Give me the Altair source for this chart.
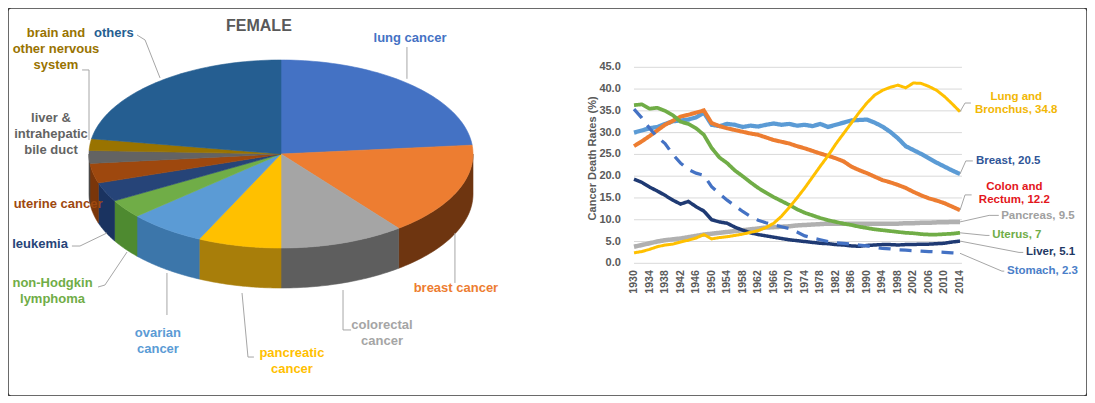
import altair as alt
import pandas as pd

# ---------------- pie (FEMALE) ----------------
pie_labels = ["lung cancer", "breast cancer", "colorectal cancer", "pancreatic cancer",
              "ovarian cancer", "non-Hodgkin lymphoma", "leukemia", "uterine cancer",
              "liver & intrahepatic bile duct", "brain and other nervous system", "others"]
pie_values = [23.5, 16.0, 10.5, 7.0, 6.5, 3.2, 3.3, 3.4, 2.2, 2.0, 22.4]
pie_top_colors = ["#4472C4", "#ED7D31", "#A5A5A5", "#FFC000", "#5B9BD5", "#70AD47",
                  "#264478", "#9E480E", "#636363", "#997300", "#255E91"]
pie_side_colors = ["#2F5597", "#6E3510", "#5E5E5E", "#A87E0A", "#3C76AA", "#4E8A30",
                   "#1A3360", "#7A360A", "#474747", "#6E5300", "#1B4870"]
pie_text = ["lung cancer", "breast cancer", "colorectal\ncancer", "pancreatic\ncancer",
            "ovarian\ncancer", "non-Hodgkin\nlymphoma", "leukemia", "uterine cancer",
            "liver &\nintrahepatic\nbile duct", "brain and\nother nervous\nsystem", "others"]
pie_text_colors = ["#4472C4", "#ED7D31", "#A5A5A5", "#FFC000", "#5B9BD5", "#70AD47",
                   "#264478", "#9E480E", "#636363", "#997300", "#255E91"]

# ---------------- lines ----------------
years = list(range(1930, 2015, 2))
lung = [2.4, 2.7, 3.2, 3.8, 4.2, 4.4, 4.9, 5.3, 5.8, 6.6, 5.6, 5.9, 6.1, 6.4, 6.7, 7.1, 7.5, 8.2,
        9.2, 10.8, 12.8, 15.0, 17.3, 19.8, 22.3, 24.7, 27.4, 29.8, 32.2, 34.6, 36.8, 38.6, 39.7,
        40.4, 40.9, 40.3, 41.4, 41.3, 40.6, 39.7, 38.3, 36.6, 34.8]
breast = [30.0, 30.5, 31.0, 31.3, 32.0, 32.6, 32.8, 33.0, 33.5, 34.6, 31.8, 31.5, 32.0, 31.8,
          31.3, 31.6, 31.4, 31.8, 32.1, 31.8, 32.0, 31.6, 31.8, 31.5, 32.0, 31.3, 31.8, 32.3,
          32.8, 32.9, 33.0, 32.3, 31.4, 30.2, 28.7, 26.9, 26.0, 25.1, 24.1, 23.1, 22.2, 21.3, 20.5]
colon = [26.9, 28.0, 29.2, 30.5, 31.8, 32.7, 33.7, 34.1, 34.6, 35.1, 32.2, 31.5, 31.0, 30.6,
         30.2, 29.8, 29.5, 28.9, 28.3, 27.9, 27.5, 26.9, 26.4, 25.8, 25.2, 24.7, 24.1, 23.4,
         22.2, 21.4, 20.7, 19.9, 19.1, 18.6, 18.0, 17.3, 16.4, 15.6, 14.9, 14.4, 13.8, 13.0, 12.2]
pancreas = [3.8, 4.2, 4.6, 5.0, 5.3, 5.5, 5.7, 6.0, 6.3, 6.6, 6.8, 7.0, 7.2, 7.4, 7.6, 7.8, 8.0,
            8.2, 8.3, 8.4, 8.5, 8.7, 8.8, 8.9, 9.0, 9.1, 9.1, 9.1, 9.1, 9.1, 9.1, 9.1, 9.1, 9.1,
            9.1, 9.2, 9.2, 9.3, 9.3, 9.4, 9.4, 9.5, 9.5]
uterus = [36.3, 36.5, 35.5, 35.7, 35.0, 34.0, 32.5, 32.0, 31.0, 29.5, 26.5, 24.3, 23.0, 21.3,
          20.0, 18.6, 17.3, 16.2, 15.2, 14.3, 13.4, 12.4, 11.6, 11.0, 10.4, 9.9, 9.5, 9.1, 8.8,
          8.4, 8.1, 7.8, 7.6, 7.4, 7.2, 7.0, 6.9, 6.7, 6.6, 6.6, 6.7, 6.8, 7.0]
liver = [19.3, 18.6, 17.5, 16.6, 15.6, 14.5, 13.6, 14.2, 13.0, 12.0, 10.0, 9.5, 9.2, 8.3, 7.6,
         7.0, 6.6, 6.3, 6.0, 5.7, 5.4, 5.2, 5.0, 4.8, 4.6, 4.5, 4.3, 4.2, 4.0, 3.9, 4.1, 4.2,
         4.3, 4.3, 4.2, 4.3, 4.3, 4.4, 4.4, 4.5, 4.6, 4.9, 5.1]
stomach = [35.4, 33.4, 31.0, 29.0, 27.5, 25.0, 23.0, 21.5, 20.7, 20.2, 17.6, 16.0, 14.5, 13.2,
           11.9, 10.8, 9.9, 9.3, 8.8, 8.4, 8.0, 7.2, 6.3, 5.8, 5.4, 5.0, 4.7, 4.6, 4.4, 4.2, 4.0,
           3.7, 3.4, 3.3, 3.1, 3.0, 2.9, 2.8, 2.7, 2.6, 2.5, 2.4, 2.3]

series_names = ["Pancreas", "Breast", "Colon and Rectum", "Uterus", "Liver", "Stomach", "Lung and Bronchus"]
series_values = [pancreas, breast, colon, uterus, liver, stomach, lung]
series_colors = ["#B0B0B0", "#5B9BD5", "#ED7D31", "#70AD47", "#1F3A73", "#4472C4", "#FFC000"]
series_widths = [4.5, 3, 3, 3, 3, 3.5, 3]
series_dash = [[1, 0], [1, 0], [1, 0], [1, 0], [1, 0], [12, 9], [1, 0]]

end_labels = ["Lung and\nBronchus, 34.8", "Colon and\nRectum, 12.2", "Breast, 20.5",
              "Pancreas, 9.5", "Uterus, 7", "Liver, 5.1", "Stomach, 2.3"]
end_label_colors = ["#F2B705", "#E3161B", "#2F5597", "#A0A0A0", "#70AD47", "#1F3864", "#4A7EC8"]

x_ticks = list(range(1930, 2015, 4))
y_ticks = [0, 5, 10, 15, 20, 25, 30, 35, 40, 45]
y_title = "Cancer Death Rates (%)"

FONT = "Liberation Sans"
GRAY = "#595959"

# ---------------- scales ----------------
ux = alt.Scale(domain=[-1, 1], range=[81, 465], zero=False, nice=False)
vy = alt.Scale(domain=[-1, 1], range=[240, 52], zero=False, nice=False)
xs = alt.Scale(domain=[x_ticks[0], x_ticks[-1]], range=[626, 952], zero=False, nice=False)
ys = alt.Scale(domain=[y_ticks[0], y_ticks[-1]], range=[255.3, 59.3], zero=False, nice=False)

def PX(f):
    return alt.X(f, scale=ux, axis=None)

def PY(f):
    return alt.Y(f, scale=vy, axis=None)

def LX(f):
    return alt.X(f, scale=xs, axis=None)

def LY(f):
    return alt.Y(f, scale=ys, axis=None)

# ---------------- pie layers ----------------
pie_df = pd.DataFrame({"cat": pie_labels, "val": pie_values, "idx": list(range(len(pie_labels))),
                       "top": pie_top_colors, "side": pie_side_colors})

base_pie = alt.Chart(pie_df).transform_joinaggregate(
    total="sum(val)"
).transform_window(
    cum="sum(val)", sort=[alt.SortField("idx", order="ascending")], frame=[None, 0]
).transform_calculate(
    a0="2*PI*(datum.cum - datum.val)/datum.total",
    a1="2*PI*datum.cum/datum.total",
)

DEPTH = 0.4255

side = base_pie.transform_calculate(
    s0="max(datum.a0, PI/2)", s1="min(datum.a1, 3*PI/2)"
).transform_filter("datum.s1 > datum.s0").transform_calculate(
    t="sequence(0, 82)"
).transform_flatten(["t"]).transform_calculate(
    ang="datum.t <= 40 ? datum.s0 + (datum.s1 - datum.s0) * datum.t / 40 : datum.s1 - (datum.s1 - datum.s0) * (datum.t - 41) / 40",
    u="sin(datum.ang)",
    v=f"datum.t <= 40 ? cos(datum.ang) : cos(datum.ang) - {DEPTH}",
).mark_line(interpolate="linear-closed", strokeWidth=0.6).encode(
    x=PX("u:Q"), y=PY("v:Q"),
    order=alt.Order("t:Q"),
    detail="cat:N",
    color=alt.Color("side:N", scale=None),
    fill=alt.Fill("side:N", scale=None),
)

top = base_pie.transform_calculate(
    t="sequence(0, 62)"
).transform_flatten(["t"]).transform_calculate(
    ang="datum.a0 + (datum.a1 - datum.a0) * (datum.t - 1) / 60",
    u="datum.t == 0 ? 0 : sin(datum.ang)",
    v="datum.t == 0 ? 0 : cos(datum.ang)",
).mark_line(interpolate="linear-closed", strokeWidth=0.6).encode(
    x=PX("u:Q"), y=PY("v:Q"),
    order=alt.Order("t:Q"),
    detail="cat:N",
    color=alt.Color("top:N", scale=None),
    fill=alt.Fill("top:N", scale=None),
)

# label placement (pie units, first text line)
pie_lab_u = [0.672, 0.911, 0.526, 0.057, -0.641, -1.19, -1.255, -1.161, -1.198, -1.172, -0.87]
pie_lab_v = [1.234, -1.426, -1.819, -2.117, -1.904, -1.372, -0.957, -0.532, 0.383, 1.287, 1.287]
pie_lab_df = pd.DataFrame({"text": pie_text, "u": pie_lab_u, "v": pie_lab_v, "color": pie_text_colors})

pie_labels_layer = alt.Chart(pie_lab_df).mark_text(
    font=FONT, fontSize=13, fontWeight="bold", align="center", baseline="middle",
    lineBreak="\n", lineHeight=16
).encode(
    x=PX("u:Q"), y=PY("v:Q"),
    text="text:N",
    color=alt.Color("color:N", scale=None),
)

lead_rows = [
    ("lung", [(0.656, 1.138), (0.656, 0.80)]),
    ("breast", [(0.906, -0.84), (0.906, -1.372)]),
    ("colorectal", [(0.323, -1.447), (0.323, -1.872), (0.365, -1.872)]),
    ("pancreatic", [(-0.203, -1.479), (-0.172, -2.16), (-0.141, -2.16)]),
    ("ovarian", [(-0.594, -1.266), (-0.594, -1.713)]),
    ("nhl", [(-0.802, -1.043), (-0.917, -1.394), (-0.953, -1.415)]),
    ("leukemia", [(-0.906, -0.84), (-1.047, -0.979), (-1.089, -0.979)]),
    ("brain", [(-1.0, 0.149), (-1.0, 0.894), (-1.036, 0.894)]),
    ("others", [(-0.63, 0.809), (-0.708, 1.213), (-0.75, 1.266)]),
]
lead_df = pd.DataFrame([{"id": k, "o": i, "u": p[0], "v": p[1]}
                        for k, pts in lead_rows for i, p in enumerate(pts)])
pie_leaders = alt.Chart(lead_df).mark_line(color="#A6A6A6", strokeWidth=1).encode(
    x=PX("u:Q"), y=PY("v:Q"),
    order=alt.Order("o:Q"),
    detail="id:N",
)

title_df = pd.DataFrame({"text": ["FEMALE"], "u": [-0.115], "v": [1.362]})
pie_title = alt.Chart(title_df).mark_text(
    font=FONT, fontSize=16, fontWeight="bold", color=GRAY, align="center", baseline="middle"
).encode(x=PX("u:Q"), y=PY("v:Q"), text="text:N")

pie_group = alt.layer(side, top, pie_leaders, pie_labels_layer, pie_title)

# ---------------- line layers ----------------
rows = []
for name, vals in zip(series_names, series_values):
    for yr, v in zip(years, vals):
        rows.append({"series": name, "year": yr, "rate": v})
line_df = pd.DataFrame(rows)

grid_df = pd.DataFrame({"y": y_ticks})
grid = alt.Chart(grid_df).transform_calculate(
    x0=str(x_ticks[0]), x1=str(x_ticks[-1] + 0.5)
).mark_rule(color="#D9D9D9", strokeWidth=1).encode(
    x=LX("x0:Q"), x2="x1:Q", y=LY("y:Q"),
)

# y tick labels, drawn through the y scale
ytick_labels = alt.Chart(pd.DataFrame({"y": y_ticks})).transform_calculate(
    lx="1926.6"
).mark_text(
    font=FONT, fontSize=11, fontWeight="bold", color=GRAY, align="right", baseline="middle"
).encode(x=LX("lx:Q"), y=LY("y:Q"), text=alt.Text("y:Q", format=".1f"))

# x tick labels, drawn through the x scale
xtick_labels = alt.Chart(pd.DataFrame({"x": x_ticks})).transform_calculate(
    ly="-1.6"
).mark_text(
    font=FONT, fontSize=10.5, fontWeight="bold", color=GRAY, align="right", baseline="middle",
    angle=270
).encode(x=LX("x:Q"), y=LY("ly:Q"), text=alt.Text("x:Q", format="d"))

ytitle = alt.Chart(pd.DataFrame({"t": [y_title]})).transform_calculate(
    tx="1919.4", ty="24.1"
).mark_text(
    font=FONT, fontSize=11, fontWeight="bold", color=GRAY, align="center", baseline="middle",
    angle=270
).encode(x=LX("tx:Q"), y=LY("ty:Q"), text="t:N")

lines = alt.Chart(line_df).mark_line(strokeCap="butt").encode(
    x=LX("year:Q"),
    y=LY("rate:Q"),
    color=alt.Color("series:N", scale=alt.Scale(domain=series_names, range=series_colors), legend=None),
    size=alt.Size("series:N", scale=alt.Scale(domain=series_names, range=series_widths), legend=None),
    strokeDash=alt.StrokeDash("series:N", scale=alt.Scale(domain=series_names, range=series_dash), legend=None),
    order=alt.Order("year:Q"),
)

lab_year = [2028.5, 2028.0, 2018.1, 2024.6, 2022.3, 2031.0, 2026.1]
lab_rate = [38.2, 17.5, 23.5, 10.9, 6.5, 2.6, -1.8]
lab_align = ["center", "center", "left", "left", "left", "left", "left"]
ann_df = pd.DataFrame({"text": end_labels, "year": lab_year, "rate": lab_rate,
                       "color": end_label_colors, "align": lab_align})

def ann_layer(align):
    return alt.Chart(ann_df).transform_filter(f"datum.align == '{align}'").mark_text(
        font=FONT, fontSize=11.5, fontWeight="bold", align=align, baseline="middle",
        lineBreak="\n", lineHeight=13
    ).encode(
        x=LX("year:Q"), y=LY("rate:Q"),
        text="text:N",
        color=alt.Color("color:N", scale=None),
    )

lead2_rows = [
    ("lung", [(2014, 34.8), (2015.3, 36.8), (2016.8, 36.8)]),
    ("breast", [(2014, 20.5), (2015.5, 23.5), (2017.3, 23.5)]),
    ("colon", [(2014, 12.2), (2015.3, 15.7), (2017.0, 15.7)]),
    ("pancreas", [(2014, 9.5), (2021.5, 11.0), (2024.0, 11.0)]),
    ("uterus", [(2014, 7.0), (2020.7, 6.4), (2021.6, 6.4)]),
    ("liver", [(2014, 5.1), (2029.2, 2.5), (2030.3, 2.5)]),
    ("stomach", [(2014, 2.3), (2024.8, -1.8), (2025.4, -1.8)]),
]
lead2_df = pd.DataFrame([{"id": k, "o": i, "year": p[0], "rate": p[1]}
                         for k, pts in lead2_rows for i, p in enumerate(pts)])
line_leaders = alt.Chart(lead2_df).mark_line(color="#A6A6A6", strokeWidth=1).encode(
    x=LX("year:Q"), y=LY("rate:Q"),
    order=alt.Order("o:Q"),
    detail="id:N",
)

line_group = alt.layer(grid, ytick_labels, xtick_labels, ytitle, lines, line_leaders,
                       ann_layer("center"), ann_layer("left"))

chart = alt.layer(pie_group, line_group).resolve_scale(
    x="independent", y="independent", color="independent",
    size="independent", strokeDash="independent"
).properties(
    width=1079, height=388, padding=0,
    autosize=alt.AutoSizeParams(type="none"), background="white"
).configure_view(
    stroke="#3A3A3A", strokeWidth=1.5, cornerRadius=3, fill="white"
)

chart.save("out.html", embed_options={"renderer": "svg", "actions": False})
